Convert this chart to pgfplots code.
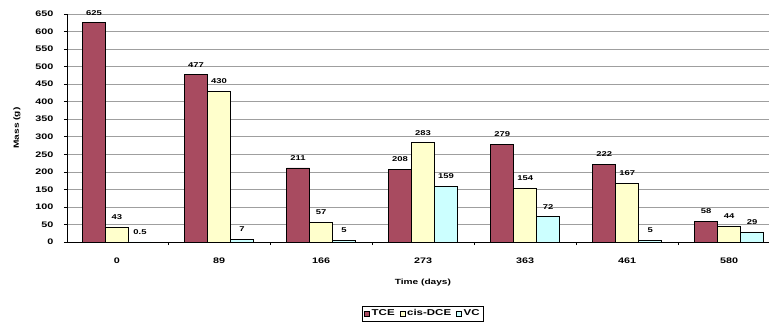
\documentclass[border=0pt]{standalone}
\usepackage{fontspec}
\setmainfont{Liberation Sans}[FakeStretch=1.35]
\usepackage{pgfplots}
\pgfplotsset{compat=1.18}
\definecolor{tce}{HTML}{A84B60}
\definecolor{dce}{HTML}{FFFFCC}
\definecolor{vc}{HTML}{CCFFFF}
\begin{document}
\begin{tikzpicture}
\begin{axis}[
  at={(67pt,85pt)}, anchor=south west,
  scale only axis, width=702pt, height=228pt,
  ybar=0pt, bar width=23pt,
  xmin=-0.49, xmax=6.39, ymin=0, ymax=650,
  ytick={0,50,...,650},
  xtick={0,...,6}, xticklabels={0,89,166,273,363,461,580},
  minor xtick={0.5,1.5,...,5.5},
  axis x line*=bottom, axis y line*=left,
  axis line style={black, line width=0.6pt},
  ymajorgrids, grid style={gray!75, line width=0.6pt},
  major x tick style={draw=none},
  minor x tick style={black, line width=0.6pt},
  minor tick length=3pt, major tick length=3pt,
  ytick style={black, line width=0.6pt},
  tick align=outside,
  /pgf/number format/assume math mode=true,
  ticklabel style={font=\bfseries\fontsize{8}{9}\selectfont},
  yticklabel style={xshift=-7pt},
  xticklabel style={yshift=-9pt},
  xlabel={Time (days)},
  ylabel={Mass (g)},
  label style={font=\bfseries\fontsize{7.5}{9}\selectfont},
  xlabel style={at={(axis description cs:0.507,0)}, anchor=center, yshift=-41pt},
  ylabel style={at={(axis description cs:0,0.5)}, anchor=center, xshift=0pt, yshift=50pt},
  nodes near coords,
  nodes near coords style={font=\bfseries\fontsize{7}{8}\selectfont, black, yshift=4pt},
  legend style={at={(0.507,-0.314)}, anchor=center, legend columns=-1,
    draw=black, line width=0.6pt, font=\bfseries\fontsize{8.5}{9}\selectfont,
    inner sep=1.5pt, /tikz/every even column/.append style={column sep=3pt}},
  legend image code/.code={\draw[#1, line width=0.5pt] (0pt,-2.5pt) rectangle (5pt,2.5pt);},
]
\addplot[fill=tce, draw=black, line width=0.6pt] coordinates {(0,625) (1,477) (2,211) (3,208) (4,279) (5,222) (6,58)};
\addplot[fill=dce, draw=black, line width=0.6pt] coordinates {(0,43) (1,430) (2,57) (3,283) (4,154) (5,167) (6,44)};
\addplot[fill=vc, draw=black, line width=0.6pt] coordinates {(0,0.5) (1,7) (2,5) (3,159) (4,72) (5,5) (6,29)};
\legend{TCE, cis-DCE, VC}
\end{axis}
\pgfresetboundingbox
\path (0,0) rectangle (769pt,327pt);
\end{tikzpicture}
\end{document}
